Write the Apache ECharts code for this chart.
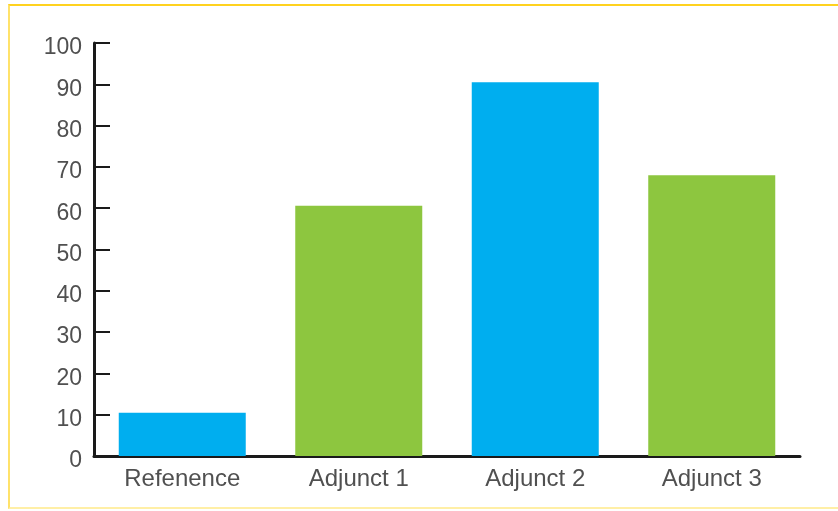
<!DOCTYPE html>
<html>
<head>
<meta charset="utf-8">
<script src="https://cdn.jsdelivr.net/npm/echarts@6/dist/echarts.min.js"></script>
<style>
  html, body { margin: 0; padding: 0; background: #ffffff; }
  #frame {
    position: absolute; left: 8px; top: 4px; width: 830px; height: 505px;
    border-top: 2px solid #FFD21F; border-left: 2px solid #FFE26A; border-bottom: 2px solid #FFEFA6;
    box-sizing: border-box;
  }
  #chart { position: absolute; left: 0; top: 0; width: 838px; height: 511px; }
</style>
</head>
<body>
<div id="frame"></div>
<div id="chart"></div>
<script>
// Groups and measured responses
const categories = ['Refenence', 'Adjunct 1', 'Adjunct 2', 'Adjunct 3'];
const values = [10.5, 60.6, 90.5, 68];
const barColors = ['#00AEEF', '#8DC63F', '#00AEEF', '#8DC63F'];

const chart = echarts.init(document.getElementById('chart'), null, { renderer: 'canvas' });

chart.setOption({
  animation: false,
  backgroundColor: 'transparent',
  grid: { left: 94, right: 38, top: 43, bottom: 55, containLabel: false },
  xAxis: {
    type: 'category',
    data: categories,
    axisLine: { show: true, lineStyle: { color: '#1a1a1a', width: 3 } },
    axisTick: { show: false },
    axisLabel: {
      color: '#505050', fontSize: 24, fontFamily: 'Liberation Sans, Arial, sans-serif',
      margin: 11
    }
  },
  yAxis: {
    type: 'value',
    min: 0, max: 100, interval: 10,
    axisLine: { show: true, lineStyle: { color: '#1a1a1a', width: 3 } },
    axisTick: { show: true, inside: true, length: 16, lineStyle: { color: '#1a1a1a', width: 2 } },
    splitLine: { show: false },
    axisLabel: {
      color: '#505050', fontSize: 23, fontFamily: 'Liberation Sans, Arial, sans-serif',
      margin: 12, verticalAlign: 'top', lineHeight: 10
    }
  },
  series: [{
    type: 'bar',
    data: values.map((v, i) => ({ value: v, itemStyle: { color: barColors[i] } })),
    barWidth: 127
  }]
});
</script>
</body>
</html>
